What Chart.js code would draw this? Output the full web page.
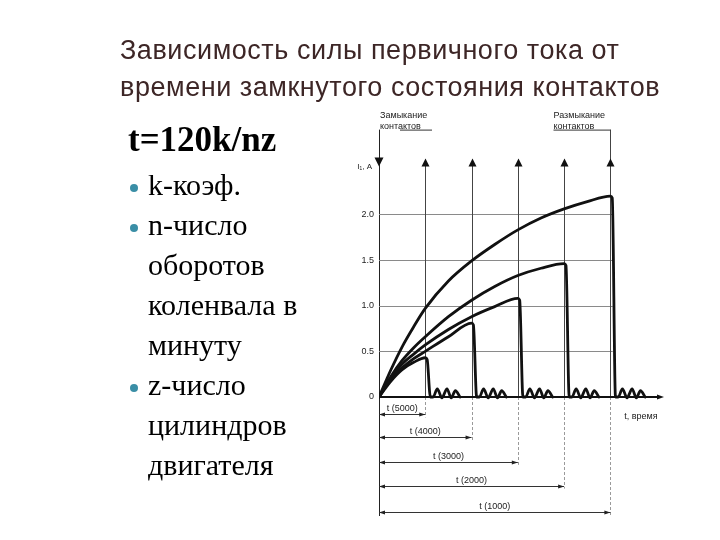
<!DOCTYPE html>
<html><head><meta charset="utf-8">
<script src="https://cdn.jsdelivr.net/npm/chart.js@4.4.1/dist/chart.umd.min.js"></script>
<style>
html,body{margin:0;padding:0;background:#fff;width:720px;height:540px;overflow:hidden}
#c{position:absolute;left:0;top:0}
.title{position:absolute;left:120px;top:32px;font:27px/37px "Liberation Sans",Arial,sans-serif;letter-spacing:0.55px;color:#3d2626;white-space:nowrap}
.formula{position:absolute;left:128px;top:120px;font:bold 35px/40px "Liberation Serif","Times New Roman",serif;color:#000;white-space:nowrap}
.list{position:absolute;left:148px;top:165px;font:30px/40px "Liberation Serif","Times New Roman",serif;color:#000;white-space:nowrap}
.dot{position:absolute;width:8px;height:8px;border-radius:50%;background:#3a8ea6;left:130px}
</style></head>
<body>
<canvas id="c" width="720" height="540"></canvas>
<div class="title">Зависимость силы первичного тока от<br>времени замкнутого состояния контактов</div>
<div class="formula">t=120k/nz</div>
<div class="list">k-коэф.<br>n-число<br>оборотов<br>коленвала в<br>минуту<br>z-число<br>цилиндров<br>двигателя</div>
<div class="dot" style="top:184px"></div>
<div class="dot" style="top:224px"></div>
<div class="dot" style="top:384px"></div>
<script>
// ---- data ----
const yTicks = [0, 0.5, 1.0, 1.5, 2.0];
const gridX = [1, 2, 3, 4, 5];
const rpm = ['5000', '4000', '3000', '2000', '1000'];
const breakT = [1, 2, 3, 4, 5];
const dimY = [-0.19, -0.44, -0.71, -0.97, -1.26];

const c5000x = [0,0.25,0.5,0.75,1,1.04,1.11,1.17,1.26,1.36,1.47,1.56,1.65,1.75];
const c5000y = [0,0.17,0.3,0.38,0.43,0.41,0,0,0.09,-0.01,0.09,-0.01,0.07,0];
const c4000x = [0,0.25,0.5,0.75,1,1.5,2,2.04,2.11,2.17,2.26,2.36,2.47,2.56,2.65,2.75];
const c4000y = [0,0.19,0.32,0.42,0.5,0.66,0.81,0.79,0,0,0.09,-0.01,0.09,-0.01,0.07,0];
const c3000x = [0,0.25,0.5,0.75,1,1.5,2,2.5,3,3.04,3.11,3.17,3.26,3.36,3.47,3.56,3.65,3.75];
const c3000y = [0,0.2,0.36,0.47,0.57,0.74,0.88,0.99,1.08,1.06,0,0,0.09,-0.01,0.09,-0.01,0.07,0];
const c2000x = [0,0.25,0.5,0.75,1,1.5,2,2.5,3,3.5,4,4.04,4.11,4.17,4.26,4.36,4.47,4.56,4.65,4.75];
const c2000y = [0,0.22,0.4,0.54,0.66,0.88,1.06,1.21,1.33,1.41,1.46,1.44,0,0,0.09,-0.01,0.09,-0.01,0.07,0];
const c1000x = [0,0.25,0.5,0.75,1,1.5,2,2.5,3,3.5,4,4.5,5,5.04,5.11,5.17,5.26,5.36,5.47,5.56,5.65,5.75];
const c1000y = [0,0.29,0.55,0.77,0.97,1.27,1.49,1.67,1.83,1.96,2.06,2.14,2.2,2.18,0,0,0.09,-0.01,0.09,-0.01,0.07,0];
const axisX = [0, 6.05];
const axisY = [0, 0];

const X_MAX = 6.05, Y_MIN = -1.3, Y_MAX = 2.6, GRID_RIGHT = 5.05;
const FONT = '"Liberation Sans", Arial, sans-serif';

function pts(xs, ys) { return xs.map((v, i) => ({x: v, y: ys[i]})); }
function curve(xs, ys) {
  return {data: pts(xs, ys), borderColor: '#111', borderWidth: 2.8, pointRadius: 0,
    fill: false, cubicInterpolationMode: 'monotone', borderJoinStyle: 'round', borderCapStyle: 'round'};
}

function tri(ctx, pts) {
  ctx.beginPath(); ctx.moveTo(pts[0][0], pts[0][1]);
  for (let i = 1; i < pts.length; i++) ctx.lineTo(pts[i][0], pts[i][1]);
  ctx.closePath(); ctx.fill();
}

const deco = {
  id: 'deco',
  beforeDatasetsDraw(chart) {
    const {ctx, scales: {x, y}} = chart;
    ctx.save();
    ctx.lineWidth = 1;
    ctx.strokeStyle = '#8a8a8a';
    yTicks.forEach(v => {
      if (v === 0) return;
      const py = Math.round(y.getPixelForValue(v)) + 0.5;
      ctx.beginPath(); ctx.moveTo(x.getPixelForValue(0), py); ctx.lineTo(x.getPixelForValue(GRID_RIGHT), py); ctx.stroke();
    });
    gridX.forEach((v, i) => {
      const px = Math.round(x.getPixelForValue(v)) + 0.5;
      ctx.strokeStyle = '#444';
      ctx.beginPath(); ctx.moveTo(px, y.getPixelForValue(Y_MAX) - (i === 4 ? 30 : 0)); ctx.lineTo(px, y.getPixelForValue(0)); ctx.stroke();
      ctx.strokeStyle = '#9a9a9a';
      ctx.setLineDash([3, 2]);
      ctx.beginPath(); ctx.moveTo(px, y.getPixelForValue(0)); ctx.lineTo(px, y.getPixelForValue(dimY[i]) + 3); ctx.stroke();
      ctx.setLineDash([]);
    });
    ctx.restore();
  },
  afterDatasetsDraw(chart) {
    const {ctx, scales: {x, y}} = chart;
    const x0 = x.getPixelForValue(0);
    const top = y.getPixelForValue(Y_MAX);
    ctx.save();
    ctx.fillStyle = '#111'; ctx.strokeStyle = '#222'; ctx.lineWidth = 1;
    const ax = Math.round(x0) + 0.5;
    ctx.beginPath(); ctx.moveTo(ax, top - 30); ctx.lineTo(ax, top); ctx.stroke();
    tri(ctx, [[x0 - 4.5, top - 2], [x0 + 4.5, top - 2], [x0, top + 7]]);
    gridX.forEach(v => {
      const px = Math.round(x.getPixelForValue(v)) + 0.5;
      tri(ctx, [[px, top - 1], [px - 4, top + 7], [px + 4, top + 7]]);
    });
    const xe = x.getPixelForValue(X_MAX), y0 = y.getPixelForValue(0);
    tri(ctx, [[xe + 5, y0], [xe - 2, y0 - 2.5], [xe - 2, y0 + 2.5]]);
    ctx.font = '9px ' + FONT; ctx.textAlign = 'center'; ctx.textBaseline = 'alphabetic';
    breakT.forEach((t, i) => {
      const py = Math.round(y.getPixelForValue(dimY[i])) + 0.5;
      const x1 = x.getPixelForValue(t);
      ctx.strokeStyle = '#333';
      ctx.beginPath(); ctx.moveTo(x0, py); ctx.lineTo(x1, py); ctx.stroke();
      ctx.fillStyle = '#222';
      tri(ctx, [[x0, py], [x0 + 6, py - 2], [x0 + 6, py + 2]]);
      tri(ctx, [[x1, py], [x1 - 6, py - 2], [x1 - 6, py + 2]]);
      ctx.fillText('t (' + rpm[i] + ')', (x0 + x1) / 2, py - 4);
    });
    ctx.textAlign = 'left'; ctx.fillStyle = '#222';
    ctx.fillText('Замыкание', x0 + 1, top - 42);
    ctx.fillText('контактов', x0 + 1, top - 31);
    ctx.beginPath(); ctx.moveTo(x0 + 21, top - 29.5); ctx.lineTo(x0 + 53, top - 29.5); ctx.stroke();
    const x5 = Math.round(x.getPixelForValue(5)) + 0.5;
    ctx.fillText('Размыкание', x5 - 57, top - 42);
    ctx.fillText('контактов', x5 - 57, top - 31);
    ctx.beginPath(); ctx.moveTo(x5 - 57, top - 29.5); ctx.lineTo(x5, top - 29.5); ctx.stroke();
    ctx.font = '8px ' + FONT; ctx.textAlign = 'right';
    ctx.fillText('I\u2081, A', x0 - 7, top + 9);
    ctx.font = '9px ' + FONT; ctx.textAlign = 'left';
    ctx.fillText('t, время', x.getPixelForValue(5.3), y0 + 22);
    ctx.restore();
  }
};

new Chart(document.getElementById('c'), {
  type: 'line',
  data: {
    datasets: [
      {data: pts(axisX, axisY), borderColor: '#111', borderWidth: 2, pointRadius: 0, tension: 0, clip: false},
      curve(c1000x, c1000y),
      curve(c2000x, c2000y),
      curve(c3000x, c3000y),
      curve(c4000x, c4000y),
      curve(c5000x, c5000y)
    ]
  },
  options: {
    responsive: false, animation: false,
    layout: {padding: {left: 349, right: 61, top: 159.6, bottom: 24.3}},
    plugins: {legend: {display: false}, tooltip: {enabled: false}},
    scales: {
      x: {type: 'linear', min: 0, max: X_MAX, display: false},
      y: {
        type: 'linear', min: Y_MIN, max: Y_MAX,
        afterFit: a => { a.width = 30; },
        afterBuildTicks: a => { a.ticks = yTicks.map(v => ({value: v})); },
        grid: {display: false, drawTicks: false},
        border: {display: true, color: '#222', width: 1},
        ticks: {padding: 5, color: '#222', font: {size: 9, family: FONT},
          callback: v => v === 0 ? '0' : v.toFixed(1)}
      }
    }
  },
  plugins: [deco]
});
</script>
</body></html>
